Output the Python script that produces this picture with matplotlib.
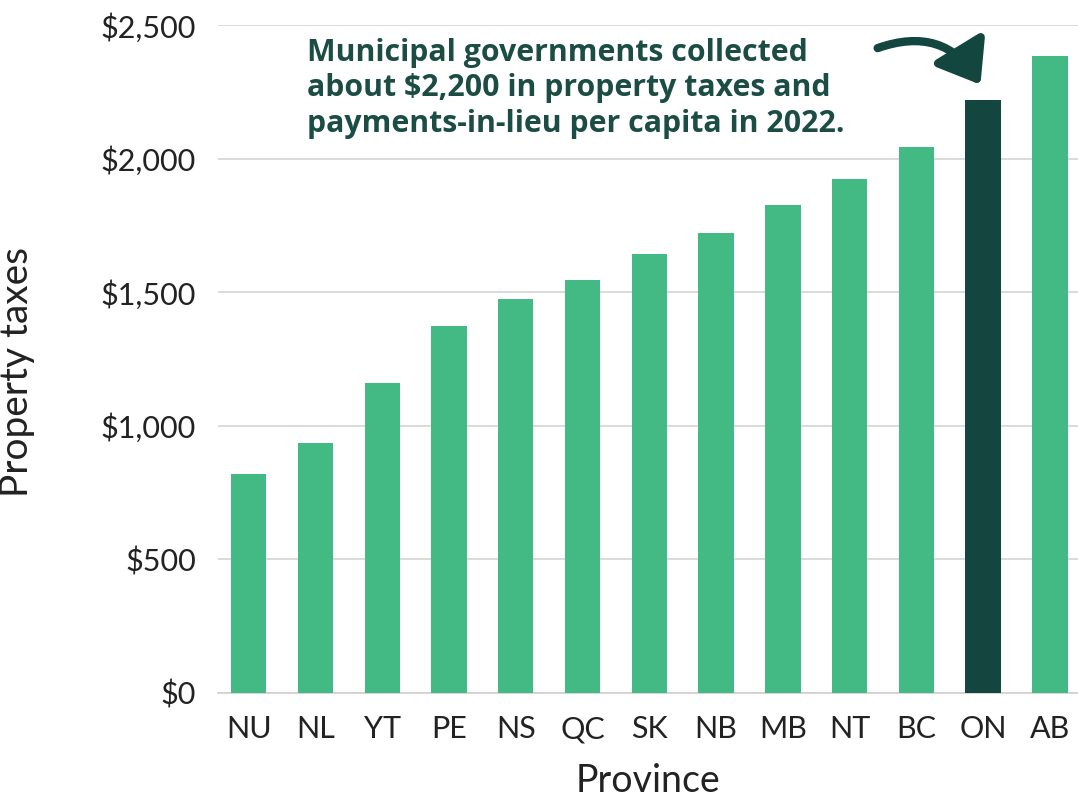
import matplotlib
matplotlib.use("Agg")
import matplotlib.pyplot as plt
from matplotlib.patches import FancyArrowPatch
from matplotlib.ticker import FuncFormatter

provinces = ["NU", "NL", "YT", "PE", "NS", "QC", "SK", "NB", "MB", "NT", "BC", "ON", "AB"]
values = [818, 934, 1162, 1373, 1475, 1545, 1642, 1720, 1825, 1922, 2045, 2220, 2385]
highlight = "ON"

plt.rcParams['font.family'] = ['Lato', 'DejaVu Sans']

fig = plt.figure(figsize=(10.78, 8.02), dpi=100)
ax = fig.add_axes([218/1078, 1 - 693/802, (1078-218)/1078, (693-25)/802])

green = "#43b984"
dark = "#12463f"
colors = [dark if p == highlight else green for p in provinces]
x = list(range(len(provinces)))
ax.bar(x, values, width=0.53, color=colors, zorder=3)

ax.set_xlim(-0.46, 12.42)
ax.set_ylim(0, 2500)
ax.set_yticks([0, 500, 1000, 1500, 2000, 2500])
ax.yaxis.set_major_formatter(FuncFormatter(lambda v, p: f"${int(v):,}"))
ax.set_xticks(x)
ax.set_xticklabels(provinces)
ax.grid(axis='y', color="#d4d4d4", linewidth=1.2, zorder=0)
for s in ['top', 'right', 'left']:
    ax.spines[s].set_visible(False)
ax.spines['bottom'].set_color("#cfcfcf")
ax.spines['bottom'].set_linewidth(1.2)
ax.tick_params(axis='both', length=0, labelsize=22, labelcolor="#222222")
ax.tick_params(axis='y', pad=16)
ax.tick_params(axis='x', pad=16)
ax.set_ylabel("Property taxes", fontsize=28, color="#222222")
ax.yaxis.set_label_coords(-0.213, 0.48)
ax.set_xlabel("Province", fontsize=27, color="#222222", labelpad=14)

ax.text(0.87, 2452, "Municipal governments collected\nabout $2,200 in property taxes and\npayments-in-lieu per capita in 2022.",
        fontsize=21.8, fontweight='bold', color="#1b4d45", va='top', ha='left',
        linespacing=1.24, zorder=5, family=['Open Sans', 'DejaVu Sans'])

arrow = FancyArrowPatch((9.38, 2410), (10.98, 2268), connectionstyle="arc3,rad=-0.42",
                        arrowstyle="-|>,head_length=12,head_width=9", color=dark,
                        linewidth=6, mutation_scale=2, zorder=5, capstyle='round')
ax.add_patch(arrow)

fig.savefig("out.png", dpi=100)
